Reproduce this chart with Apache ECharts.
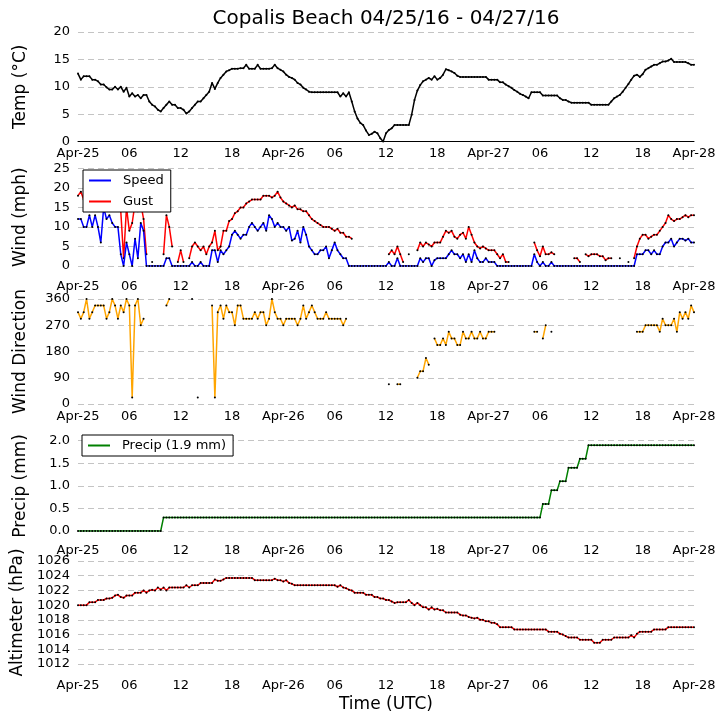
<!DOCTYPE html>
<html>
<head>
<meta charset="utf-8">
<script src="https://cdn.jsdelivr.net/npm/echarts@6/dist/echarts.min.js"></script>
<style>
html,body{margin:0;padding:0;background:#fff;}
#chart{width:726px;height:725px;}
</style>
</head>
<body>
<div id="chart"></div>
<script>
// Observations every 20 minutes from Apr-25 00:00 UTC (index k -> k/3 hours)
const xTickLabels = ['Apr-25','06','12','18','Apr-26','06','12','18','Apr-27','06','12','18','Apr-28'];

const tempC = [
12.4,11.3,11.9,11.9,11.9,11.3,11.3,11.0,10.4,10.4,
9.9,9.5,9.5,10.0,9.5,10.0,9.1,9.8,8.2,8.8,
8.2,8.5,7.9,8.5,8.5,7.3,6.7,6.4,5.8,5.5,
6.1,6.7,7.3,6.7,6.7,6.1,6.1,5.8,5.1,5.5,
6.1,6.7,7.3,7.3,7.9,8.5,9.1,10.7,9.6,10.7,
11.6,12.2,12.8,13.0,13.3,13.3,13.3,13.4,13.4,14.0,
13.3,13.3,13.3,14.0,13.3,13.3,13.3,13.3,13.4,14.0,
13.4,13.1,12.8,12.2,11.8,11.6,11.3,10.7,10.4,9.8,
9.5,9.1,9.0,9.0,9.0,9.0,9.0,9.0,9.0,9.0,
9.0,9.0,8.2,8.8,8.2,9.0,7.3,5.5,4.2,3.4,
3.0,2.0,1.2,1.4,1.8,1.5,0.6,0.0,1.5,2.1,
2.4,3.0,3.0,3.0,3.0,3.0,3.0,4.9,7.6,9.3,
10.3,11.0,11.3,11.6,11.3,11.9,11.3,11.6,12.2,13.2,
13.0,12.8,12.5,12.0,11.8,11.8,11.8,11.8,11.8,11.8,
11.8,11.8,11.8,11.8,11.3,11.3,11.3,11.3,10.8,10.8,
10.4,10.1,9.8,9.4,9.1,8.7,8.5,8.2,7.9,9.0,
9.0,9.0,9.0,8.4,8.4,8.4,8.4,8.4,8.4,7.9,
7.6,7.6,7.3,7.1,7.1,7.1,7.1,7.1,7.1,7.1,
6.7,6.7,6.7,6.7,6.7,6.7,6.7,7.3,7.9,8.2,
8.5,9.1,9.8,10.5,11.3,12.0,12.2,11.8,12.3,13.1,
13.4,13.7,14.0,14.0,14.3,14.6,14.6,14.8,15.1,14.5,
14.5,14.5,14.5,14.5,14.3,14.0,14.0
];

const windSpeed = [
12,12,10,10,13,10,13,10,6,15,
12,13,11,10,10,3,0,6,3,0,
7,2,11,9,0,0,0,0,0,0,
0,2,2,0,0,0,0,0,0,0,
1,0,0,1,0,0,0,4,4,1,
4,3,4,5,8,9,8,7,8,8,
10,11,10,9,10,11,9,13,12,10,
11,10,10,9,10,6.5,7,9,6,10,
8,5,4,3,3,4,4,5,2,4,
6,4,3,2,2,0,0,0,0,0,
0,0,0,0,0,0,0,0,0,1,
0,0,2,0,0,0,0,0,0,0,
2,1,2,2,0,1.5,2,2,2,2,
3,4,3,3,2,3,1,3,1,4,
2,1,1,2,1,1,1,0,0,0,
0,0,0,0,0,0,0,0,0,0,
3,1,0,1,0,0,1,0,0,0,
0,0,0,0,0,0,0,0,0,0,
0,0,0,0,0,0,0,0,0,0,
0,0,0,0,0,0,3,3,3,4,
4,3,4,3,3,5,6,6,7,5,
6,7,7,6.5,7,6,6
];

const windGust = [
18,19,17,16,18,17,16,17,18,16,
19,17,18,16,15,14,2,15,9,11,
16,14,16,12,3,null,1,null,null,null,
3,13,10,5,null,1,4,1,null,2,
5,6,5,4,5,3,5,6,9,4,
5,9,9,11.5,12,13.5,14,15,15,16,
16.5,17,17,17,17,18,18,18,17.5,18,
19,17.5,16.5,16,15.5,15,15.5,14.5,14.5,14,
14,13,12,11.5,11,10.5,10,10,10,9.5,
9,9.5,8.5,8.5,7.5,7.5,7,null,null,null,
null,null,null,null,null,null,null,null,null,3,
4,3,5,3,1,null,3,null,null,4,
6,5,6,5.5,5,6,6,6,7.5,9,
8.5,9,7.5,7,8,8.5,7,10,8,6,
5,4.5,5,4.5,4,4,4,3,2,3,
1,1,null,null,null,null,null,null,null,null,
6,4,2.5,5,3,3,3.5,3,null,null,
null,null,null,null,2,2,1,null,3,2.5,
3,3,3,2.5,2.5,1.5,2,2,null,null,
2,null,null,1,null,2,5,7,8,8,
7,7.5,8,8,9,10,11,13,12,11.5,
12,12,12.5,13,12.5,13,13
];

const windDir = [
315,292.5,315,360,292.5,315,337.5,337.5,337.5,337.5,
292.5,315,360,337.5,292.5,337.5,315,360,337.5,22.5,
337.5,360,270,292.5,null,null,null,null,null,null,
null,337.5,360,null,null,null,null,null,null,null,
360,null,22.5,null,null,null,null,337.5,22.5,315,
337.5,292.5,337.5,315,315,270,337.5,337.5,292.5,292.5,
292.5,292.5,315,292.5,315,315,270,292.5,360,315,
292.5,292.5,270,292.5,292.5,292.5,292.5,270,292.5,337.5,
292.5,315,337.5,315,292.5,292.5,292.5,315,292.5,292.5,
292.5,292.5,292.5,270,292.5,null,null,null,null,null,
null,null,null,null,null,null,null,null,null,67.5,
null,null,67.5,67.5,null,null,null,null,null,90,
112.5,112.5,157.5,135,null,225,202.5,202.5,225,202.5,
247.5,225,225,202.5,202.5,247.5,225,225,247.5,225,
225,247.5,225,225,247.5,247.5,247.5,null,null,null,
null,null,null,null,null,null,null,null,null,null,
247.5,247.5,null,225,270,null,247.5,null,null,null,
null,null,null,null,null,null,null,null,null,null,
null,null,null,null,null,null,null,null,null,null,
null,null,null,null,null,null,247.5,247.5,247.5,270,
270,270,270,270,247.5,292.5,270,270,270,292.5,
247.5,315,292.5,315,292.5,337.5,315
];

const precipMM = [
0,0,0,0,0,0,0,0,0,0,
0,0,0,0,0,0,0,0,0,0,
0,0,0,0,0,0,0,0,0,0,
0.3,0.3,0.3,0.3,0.3,0.3,0.3,0.3,0.3,0.3,
0.3,0.3,0.3,0.3,0.3,0.3,0.3,0.3,0.3,0.3,
0.3,0.3,0.3,0.3,0.3,0.3,0.3,0.3,0.3,0.3,
0.3,0.3,0.3,0.3,0.3,0.3,0.3,0.3,0.3,0.3,
0.3,0.3,0.3,0.3,0.3,0.3,0.3,0.3,0.3,0.3,
0.3,0.3,0.3,0.3,0.3,0.3,0.3,0.3,0.3,0.3,
0.3,0.3,0.3,0.3,0.3,0.3,0.3,0.3,0.3,0.3,
0.3,0.3,0.3,0.3,0.3,0.3,0.3,0.3,0.3,0.3,
0.3,0.3,0.3,0.3,0.3,0.3,0.3,0.3,0.3,0.3,
0.3,0.3,0.3,0.3,0.3,0.3,0.3,0.3,0.3,0.3,
0.3,0.3,0.3,0.3,0.3,0.3,0.3,0.3,0.3,0.3,
0.3,0.3,0.3,0.3,0.3,0.3,0.3,0.3,0.3,0.3,
0.3,0.3,0.3,0.3,0.3,0.3,0.3,0.3,0.3,0.3,
0.3,0.3,0.3,0.6,0.6,0.6,0.9,0.9,0.9,1.1,
1.1,1.1,1.4,1.4,1.4,1.4,1.6,1.6,1.6,1.9,
1.9,1.9,1.9,1.9,1.9,1.9,1.9,1.9,1.9,1.9,
1.9,1.9,1.9,1.9,1.9,1.9,1.9,1.9,1.9,1.9,
1.9,1.9,1.9,1.9,1.9,1.9,1.9,1.9,1.9,1.9,
1.9,1.9,1.9,1.9,1.9,1.9,1.9
];

const altimeterHPa = [
1020.0,1020.0,1020.0,1020.0,1020.4,1020.4,1020.4,1020.7,1020.7,1020.7,
1020.9,1020.9,1021.0,1021.3,1021.4,1021.1,1021.0,1021.3,1021.3,1021.3,
1021.7,1021.7,1021.7,1022.0,1021.7,1022.0,1022.1,1022.0,1022.4,1022.1,
1022.4,1022.0,1022.4,1022.4,1022.4,1022.4,1022.4,1022.4,1022.7,1022.4,
1022.7,1022.7,1022.7,1023.0,1023.0,1023.0,1023.0,1023.0,1023.5,1023.3,
1023.3,1023.5,1023.7,1023.7,1023.7,1023.7,1023.7,1023.7,1023.7,1023.7,
1023.7,1023.7,1023.4,1023.4,1023.4,1023.4,1023.4,1023.4,1023.4,1023.6,
1023.4,1023.4,1023.2,1023.4,1023.0,1022.9,1022.7,1022.7,1022.7,1022.7,
1022.7,1022.7,1022.7,1022.7,1022.7,1022.7,1022.7,1022.7,1022.7,1022.7,
1022.7,1022.5,1022.7,1022.4,1022.3,1022.1,1022.0,1021.7,1021.7,1021.7,
1021.7,1021.4,1021.4,1021.4,1021.1,1021.1,1020.9,1020.9,1020.7,1020.7,
1020.5,1020.3,1020.4,1020.4,1020.4,1020.4,1020.7,1020.3,1020.0,1020.3,
1020.0,1019.7,1019.7,1019.4,1019.7,1019.4,1019.5,1019.3,1019.3,1019.0,
1019.0,1019.0,1019.0,1019.0,1018.7,1018.6,1018.6,1018.4,1018.3,1018.2,
1018.3,1018.0,1018.0,1017.8,1017.8,1017.6,1017.6,1017.4,1017.0,1017.0,
1017.0,1017.0,1017.0,1016.7,1016.7,1016.7,1016.7,1016.7,1016.7,1016.7,
1016.7,1016.7,1016.7,1016.7,1016.7,1016.4,1016.4,1016.4,1016.4,1016.1,
1016.0,1015.8,1015.6,1015.6,1015.6,1015.6,1015.3,1015.3,1015.3,1015.3,
1015.3,1014.9,1014.9,1014.9,1015.3,1015.3,1015.3,1015.3,1015.6,1015.6,
1015.6,1015.6,1015.6,1015.6,1015.9,1015.6,1016.1,1016.4,1016.4,1016.4,
1016.4,1016.4,1016.7,1016.7,1016.7,1016.7,1016.7,1017.0,1017.0,1017.0,
1017.0,1017.0,1017.0,1017.0,1017.0,1017.0,1017.0
];

const obsHours = tempC.map((_, k) => k / 3);
const pairs = arr => arr.map((v, k) => [obsHours[k], v]);

const FONT = 'DejaVu Sans';
const GRID_LEFT = 78, GRID_RIGHT = 32;
const panels = [
  {top: 32,    height: 109.5, min: 0,    max: 20,   interval: 5,   name: 'Temp (°C)',        labelMargin: 6,  dec: 0},
  {top: 168.3, height: 97.7,  min: 0,    max: 25,   interval: 5,   name: 'Wind (mph)',       labelMargin: 14, dec: 0},
  {top: 299,   height: 105,   min: 0,    max: 360,  interval: 90,  name: 'Wind Direction',   labelMargin: 6,  dec: 0},
  {top: 440.7, height: 90.3,  min: 0,    max: 2,    interval: 0.5, name: 'Precip (mm)',      labelMargin: 13, dec: 1},
  {top: 561,   height: 103,   min: 1012, max: 1026, interval: 2,   name: 'Altimeter (hPa)',  labelMargin: 15, dec: 0}
];

const grid = panels.map(p => ({left: GRID_LEFT, right: GRID_RIGHT, top: p.top, height: p.height}));
const xAxis = panels.map((p, i) => ({
  type: 'value', gridIndex: i, min: 0, max: 72, interval: 6,
  axisLine: {show: i === 0, onZero: false, lineStyle: {color: '#000', width: 1}},
  axisTick: {show: false},
  splitLine: {show: false},
  axisLabel: {margin: p.labelMargin, fontSize: 13, color: '#000', fontFamily: FONT,
    formatter: v => xTickLabels[Math.round(v / 6)]}
}));
const yAxis = panels.map((p, i) => ({
  type: 'value', gridIndex: i, min: p.min, max: p.max, interval: p.interval,
  name: p.name, nameLocation: 'middle', nameGap: 49,
  nameTextStyle: {fontSize: 17, fontFamily: FONT, color: '#000'},
  axisLine: {show: false}, axisTick: {show: false},
  axisLabel: {fontSize: 13, color: '#000', fontFamily: FONT, margin: 8,
    formatter: v => v.toFixed(p.dec)},
  splitLine: {show: true, lineStyle: {type: [6, 4], color: '#c4c4c4', width: 1}}
}));

function lineSeries(name, data, idx, color, z) {
  return {
    name: name, type: 'line', xAxisIndex: idx, yAxisIndex: idx,
    data: pairs(data), connectNulls: false,
    symbol: 'circle', symbolSize: 2, showSymbol: true,
    itemStyle: {color: '#000'},
    lineStyle: {color: color, width: 1.5},
    emphasis: {disabled: true}, z: z || 2, animation: false
  };
}

const series = [
  lineSeries('Temp', tempC, 0, '#000000'),
  lineSeries('Speed', windSpeed, 1, '#0000ff', 3),
  lineSeries('Gust', windGust, 1, '#ff0000', 2),
  lineSeries('Direction', windDir, 2, '#ffa500'),
  lineSeries('Precip (1.9 mm)', precipMM, 3, '#008000'),
  lineSeries('Altimeter', altimeterHPa, 4, '#ff0000')
];

const legendCommon = {
  orient: 'vertical', backgroundColor: '#fff', borderColor: '#000', borderWidth: 1,
  borderRadius: 0, padding: [4, 7, 4, 6], itemWidth: 22, itemHeight: 2, itemGap: 8,
  selectedMode: false,
  textStyle: {fontSize: 13, fontFamily: FONT, color: '#000', padding: [0, 0, 0, 7]}
};

const option = {
  animation: false,
  backgroundColor: '#fff',
  grid: grid, xAxis: xAxis, yAxis: yAxis, series: series,
  legend: [
    Object.assign({}, legendCommon, {left: 83, top: 170, z: 10,
      data: [{name: 'Speed', icon: 'rect', itemStyle: {color: '#0000ff', borderWidth: 0}},
             {name: 'Gust', icon: 'rect', itemStyle: {color: '#ff0000', borderWidth: 0}}]}),
    Object.assign({}, legendCommon, {left: 82, top: 435, z: 10,
      data: [{name: 'Precip (1.9 mm)', icon: 'rect', itemStyle: {color: '#008000', borderWidth: 0}}]})
  ],
  graphic: [
    {type: 'text', x: 386, y: 19, z: 20,
      style: {text: 'Copalis Beach 04/25/16 - 04/27/16', x: 0, y: 0, textAlign: 'center', textVerticalAlign: 'middle',
        fontSize: 20, fontFamily: FONT, fill: '#000'}},
    {type: 'text', x: 386, y: 705, z: 20,
      style: {text: 'Time (UTC)', x: 0, y: 0, textAlign: 'center', textVerticalAlign: 'middle',
        fontSize: 17, fontFamily: FONT, fill: '#000'}}
  ]
};

const chart = echarts.init(document.getElementById('chart'), null, {renderer: 'canvas'});
chart.setOption(option);
</script>
</body>
</html>
